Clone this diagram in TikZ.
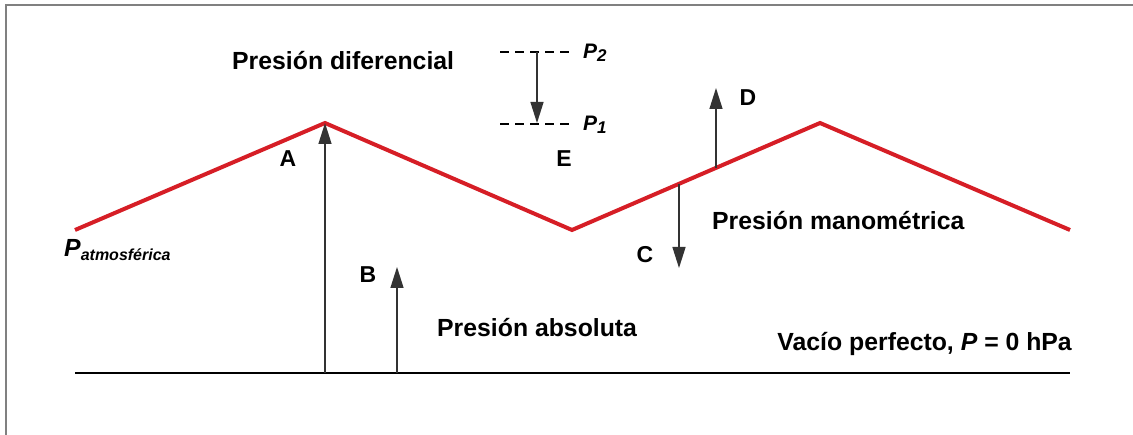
\documentclass[tikz,border=0pt]{standalone}
\usepackage{fontspec}
\setmainfont{Liberation Sans}
\usetikzlibrary{arrows.meta}
\definecolor{linered}{RGB}{214,30,38}

\begin{document}
\begin{tikzpicture}[x=1pt,y=-1pt,
        lbl/.style={font=\fontsize{24.8}{28}\selectfont\bfseries, inner sep=0pt},
        letra/.style={font=\fontsize{23}{26}\selectfont\bfseries, inner sep=0pt, anchor=base},
        flecha/.style={draw, line width=1.4pt, black!80, -{Triangle[length=21pt,width=13pt]}},
        guion/.style={draw, line width=1.5pt, dash pattern=on 9pt off 6pt}]
        \useasboundingbox (0,0) rectangle (1133,435);
        \path[draw, gray, line width=1.5pt](6,435)--(6,5)--(1133,5);
        % presion atmosferica
        \coordinate(R0)at(75,230);
        \coordinate(R1)at(325,123);
        \coordinate(R2)at(572,230);
        \coordinate(R3)at(820,123);
        \coordinate(R4)at(1070,230);
        % vacio
        \coordinate(V0)at(75,373);
        \coordinate(V1)at(1070,373);
        \coordinate(A0)at(325,373);
        \coordinate(B0)at(397,373);
        \coordinate(B1)at(397,267);
        \coordinate(D0)at(716,168);
        \coordinate(D1)at(716,88);
        \coordinate(C0)at(679,184);
        \coordinate(C1)at(679,268);
        % diferencial
        \coordinate(P2a)at(500,52);
        \coordinate(P2b)at(573,52);
        \coordinate(P1a)at(500,124);
        \coordinate(P1b)at(573,124);
        \coordinate(E0)at(537,52);
        \coordinate(E1)at(537,123);
        \path[draw, line width=2.5pt](V0)to(V1);
        \path[draw, linered, line width=4pt](R0)--(R1)--(R2)--(R3)--(R4);
        \path[guion](P2a)to(P2b);
        \path[guion](P1a)to(P1b);
        \path[flecha](A0)to(R1);
        \path[flecha](B0)to(B1);
        \path[flecha](D0)to(D1);
        \path[flecha](C0)to(C1);
        \path[flecha](E0)to(E1);
        % textos
        \node[lbl, anchor=base west](difer)at(232,70){Presión diferencial};
        \node[lbl, anchor=base west](mano)at(712,230){Presión manométrica};
        \node[lbl, anchor=base west](absol)at(437,337){Presión absoluta};
        \node[lbl, anchor=base east](vacio)at(1072,351){Vacío perfecto, \textit{P} = 0 hPa};
        \node[lbl, anchor=base west](patm)at(64,257){\textit{P}\raisebox{-4pt}{\fontsize{16}{18}\selectfont\textit{atmosférica}}};
        \node[lbl, anchor=base west, font=\fontsize{21}{24}\selectfont\bfseries](p2)at(583,59){\textit{P}\raisebox{-3pt}{\fontsize{17}{18}\selectfont\textit{2}}};
        \node[lbl, anchor=base west, font=\fontsize{21}{24}\selectfont\bfseries](p1)at(583,131){\textit{P}\raisebox{-3pt}{\fontsize{17}{18}\selectfont\textit{1}}};
        \node[letra](lA)at(288,167){A};
        \node[letra](lB)at(368,283){B};
        \node[letra](lC)at(645,263){C};
        \node[letra](lD)at(748,106){D};
        \node[letra](lE)at(564,167){E};
    \end{tikzpicture}
\end{document}
